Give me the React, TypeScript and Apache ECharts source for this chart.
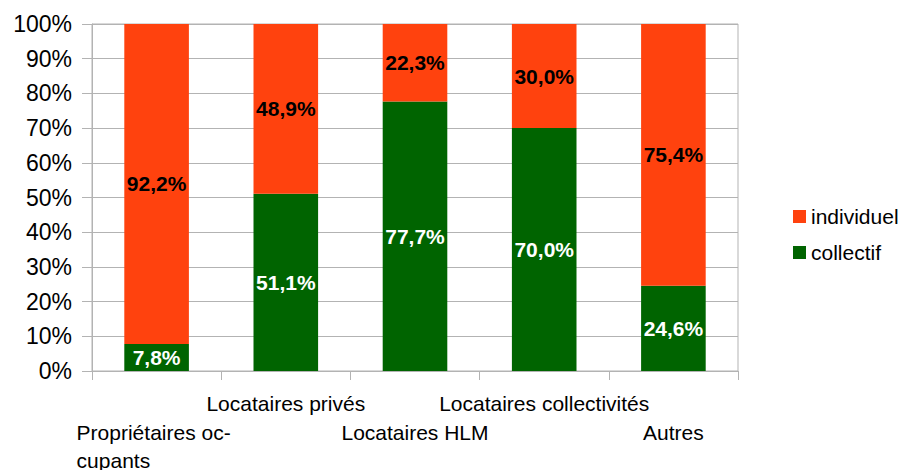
import React, { useEffect, useRef } from "react";
import * as echarts from "echarts";

const categories = [
  "Propriétaires occupants",
  "Locataires privés",
  "Locataires HLM",
  "Locataires collectivités",
  "Autres",
];
const collectif = [7.8, 51.1, 77.7, 70.0, 24.6];
const individuel = [92.2, 48.9, 22.3, 30.0, 75.4];
const yTicks = [0, 10, 20, 30, 40, 50, 60, 70, 80, 90, 100];

const FONT = "'Liberation Sans', Arial, sans-serif";
const fmt = (v: number) => v.toFixed(1).replace(".", ",") + "%";

export default function App() {
  const ref = useRef<HTMLDivElement>(null);
  useEffect(() => {
    if (!ref.current) return;
    const chart = echarts.init(ref.current, null, { renderer: "svg" });
    chart.setOption({
      animation: false,
      textStyle: { fontFamily: FONT },
      grid: {
        left: 92,
        right: 175,
        top: 24,
        bottom: 99,
        outerBoundsMode: "none",
        containLabel: false,
        show: true,
        borderColor: "#b3b3b3",
        borderWidth: 1,
      },
      legend: {
        orient: "vertical",
        left: 788,
        top: 201,
        itemWidth: 13,
        itemHeight: 13,
        itemGap: 15,
        icon: "rect",
        data: ["individuel", "collectif"],
        textStyle: { fontSize: 21, color: "#000", fontFamily: FONT },
      },
      xAxis: {
        type: "category",
        data: categories,
        axisLine: { lineStyle: { color: "#b3b3b3" } },
        axisTick: { show: true, length: 9, lineStyle: { color: "#b3b3b3" } },
        axisLabel: {
          interval: 0,
          margin: 18,
          color: "#000",
          formatter: (v: string, i: number) => {
            if (i === 0) return "{s| }\n{b|Propriétaires oc-}\n{b|cupants}";
            if (i % 2 === 1) return "{a|" + v + "}";
            return "{s| }\n{a|" + v + "}";
          },
          rich: {
            a: { fontSize: 21, lineHeight: 29, color: "#000", fontFamily: FONT },
            s: { fontSize: 21, lineHeight: 29, fontFamily: FONT },
            b: {
              fontSize: 21,
              lineHeight: 28,
              width: 160,
              align: "left",
              color: "#000",
              fontFamily: FONT,
            },
          },
        },
      },
      yAxis: {
        type: "value",
        min: 0,
        max: 100,
        interval: 10,
        axisLine: { show: true, lineStyle: { color: "#b3b3b3" } },
        axisTick: { show: true, length: 10, lineStyle: { color: "#b3b3b3" } },
        splitLine: { lineStyle: { color: "#b3b3b3" } },
        axisLabel: {
          margin: 20,
          fontSize: 23,
          color: "#000",
          fontFamily: FONT,
          formatter: (v: number) => (yTicks.includes(v) ? v + "%" : ""),
        },
      },
      series: [
        {
          name: "collectif",
          type: "bar",
          stack: "s",
          barWidth: "50%",
          data: collectif,
          itemStyle: { color: "#006400" },
          label: {
            show: true,
            position: "inside",
            color: "#fff",
            fontWeight: "bold",
            fontSize: 21,
            fontFamily: FONT,
            formatter: (p: any) => fmt(p.value),
          },
        },
        {
          name: "individuel",
          type: "bar",
          stack: "s",
          barWidth: "50%",
          data: individuel,
          itemStyle: { color: "#ff420e" },
          label: {
            show: true,
            position: "inside",
            color: "#000",
            fontWeight: "bold",
            fontSize: 21,
            fontFamily: FONT,
            formatter: (p: any) => fmt(p.value),
          },
        },
      ],
    });
    return () => chart.dispose();
  }, []);
  return (
    <div
      ref={ref}
      style={{ position: "absolute", left: 0, top: 0, width: 913, height: 470 }}
    />
  );
}
